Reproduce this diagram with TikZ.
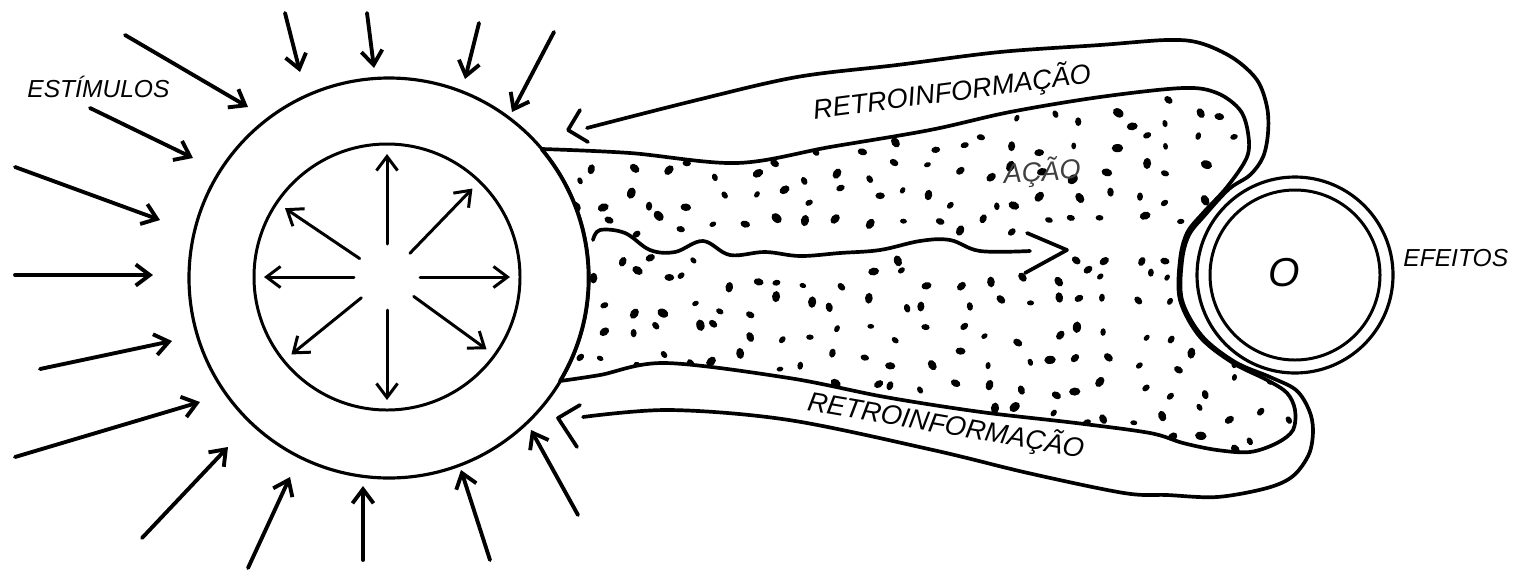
\documentclass[tikz,border=0pt]{standalone}
\usepackage{fontspec}
\setmainfont{Liberation Sans}
\usetikzlibrary{arrows.meta}

\begin{document}
\begin{tikzpicture}[x=0.02cm, y=-0.02cm, >={Straight Barb[length=8pt,width=12pt]},
        traco/.style={line width=2.1pt, line cap=round, line join=round},
        estimulo/.style={->, line width=2.2pt, line cap=round},
        irradia/.style={->, line width=1.7pt, line cap=round},
        rotulo/.style={font=\fontsize{14}{16}\selectfont\itshape, inner sep=0pt},
        retro/.style={font=\fontsize{15.5}{18}\selectfont\itshape, inner sep=0pt}]
    \useasboundingbox (0,0) rectangle (1513,569);
    % ==== ORGANISMO ====
    \coordinate (centro) at (389,278);
    \coordinate (nucleo) at (387,277);
    \draw[line width=1.8pt] (centro) circle[radius=200];
    \draw[line width=1.7pt] (nucleo) circle[radius=133];
    \foreach \ang in {-90,-46,0,36,90,141,180,-146}
        \draw[irradia] (nucleo) ++(\ang:33) -- ++(\ang:90);

    % ==== ESTIMULOS ====
    \foreach \xa/\ya/\xb/\yb in {125/35/248/107, 90/108/193/158, 15/167/160/220,
            15/275/153/275, 40/369/172/341, 15/457/200/402, 142/538/228/447,
            248/568/290/477, 363/560/363/486, 490/560/461/470, 578/515/531/430,
            285/13/300/72, 367/13/374/68, 479/23/465/79, 554/32/512/112}
        \draw[estimulo] (\xa,\ya) -- (\xb,\yb);
    \node[rotulo, anchor=west] (estimulos) at (27,87) {ESTÍMULOS};

    % ==== ACAO ====
    \begin{scope}[traco]
        \path[draw, clip] plot[smooth, tension=0.55] coordinates {(542,149) (630,153)
            (737,163) (830,147) (930,130) (1010,112) (1100,97) (1183,88) (1217,93) (1240,110)
            (1248,133) (1247,157) (1227,187) (1203,213) (1187,233) (1180,260) (1180,300)
            (1200,337) (1233,363) (1267,380) (1287,393) (1295,410) (1293,430) (1277,443)
            (1250,452) (1217,450) (1183,443) (1150,433) (1076,423) (981,412) (885,397)
            (789,378) (665,363) (600,375) (560,381)}
            arc[start angle=31, end angle=-40, radius=200] -- cycle;
        \pgfmathsetseed{12}
        \foreach \i in {0,...,24}
            \foreach \j in {0,...,14} {
                \pgfmathsetmacro\px{570+\i*30+11*rand}
                \pgfmathsetmacro\py{90+\j*27+10*rand}
                \pgfmathsetmacro\pr{2.4+1.8*rnd}
                \pgfmathsetmacro\pa{360*rnd}
                \pgfmathtruncatemacro\livre{or(abs(\py-247)>10, or(\px>1075, \px<590))}
                \ifnum\livre=1
                    \fill[rotate around={\pa:(\px,\py)}] (\px,\py) ellipse[x radius=1.4*\pr, y radius=\pr];
                \fi
            }
    \end{scope}
    \draw[traco] plot[smooth, tension=0.6] coordinates {(593,240) (600,230) (625,233)
        (650,250) (675,252) (703,241) (730,255) (765,252) (800,256) (840,253) (880,250)
        (920,241) (950,240) (980,251) (1030,251)};
    \draw[traco] (1027,233) -- (1067,250) -- (1025,273);
    \node[retro, rotate=4, text=black!75] (acao) at (1042,172) {AÇÃO};

    % ==== RETROINFORMACAO ====
    \draw[traco] plot[smooth, tension=0.55] coordinates {(587,128) (697,100) (797,77)
        (897,65) (1000,52) (1100,45) (1167,40) (1200,43) (1233,58) (1257,80) (1267,107)
        (1268,133) (1263,157) (1250,175) (1229,189) (1205,215) (1189,235) (1182,261)
        (1182,300) (1202,336) (1235,362) (1270,377) (1296,390) (1309,410) (1313,430)
        (1309,454) (1293,476) (1267,488) (1217,497) (1167,495) (1124,493) (1028,473)
        (933,450) (789,420) (670,410) (583,417)};
    \draw[traco] (580,110) -- (568,130) -- (588,142);
    \draw[traco] (580,405) -- (558,418) -- (577,447);
    \node[retro, rotate=7.5] (retrotopo) at (952,92) {RETROINFORMAÇÃO};
    \node[retro, rotate=-9.8] (retrobase) at (946,425) {RETROINFORMAÇÃO};

    % ==== EFEITOS ====
    \node[font=\fontsize{23}{26}\selectfont\itshape, inner sep=0pt] (saida) at (1284,273) {O};
    \draw[line width=1.8pt] (1295,275) circle[radius=98];
    \draw[line width=1.7pt] (1295,275) circle[radius=85];
    \node[rotulo, anchor=west] (efeitos) at (1403,258) {EFEITOS};
\end{tikzpicture}
\end{document}
